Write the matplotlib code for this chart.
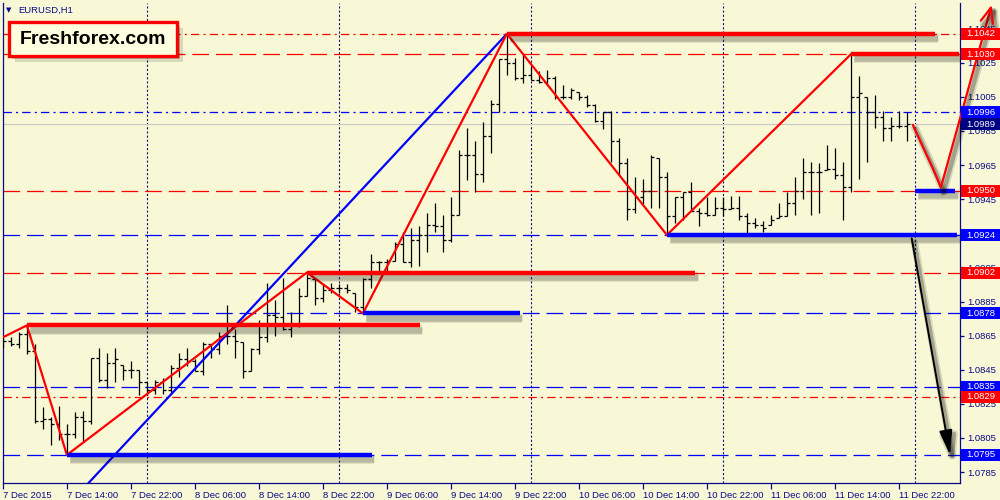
import matplotlib
matplotlib.use('Agg')
import numpy as np
import matplotlib.pyplot as plt
import matplotlib.patheffects as pe
from matplotlib.patches import Rectangle, FancyBboxPatch

# EURUSD H1, bar 0 = 7 Dec 2015 06:00
opens = [1.0863, 1.0862, 1.0860, 1.0866, 1.0856, 1.0815, 1.0816, 1.0813, 1.0807, 1.0807,
         1.0817, 1.0815, 1.0852, 1.0839, 1.0849, 1.0848, 1.0845, 1.0845, 1.0838, 1.0833,
         1.0838, 1.0833, 1.0846, 1.0851, 1.0850, 1.0844, 1.0860, 1.0857, 1.0865, 1.0865,
         1.0861, 1.0844, 1.0857, 1.0864, 1.0877, 1.0876, 1.0869, 1.0871, 1.0888, 1.0898,
         1.0887, 1.0892, 1.0893, 1.0893, 1.0890, 1.0882, 1.0898, 1.0908, 1.0908, 1.0909,
         1.0919, 1.0908, 1.0921, 1.0924, 1.0930, 1.0929, 1.0921, 1.0936, 1.0971, 1.0971,
         1.0960, 1.0982, 1.1001, 1.1027, 1.1025, 1.1016, 1.1018, 1.1015, 1.1014, 1.1016,
         1.1005, 1.1005, 1.1008, 1.1005, 1.1000, 1.0991, 1.0996, 1.0979, 1.0966, 1.0939,
         1.0946, 1.0950, 1.0969, 1.0958, 1.0935, 1.0946, 1.0949, 1.0938, 1.0937, 1.0936,
         1.0940, 1.0939, 1.0940, 1.0935, 1.0931, 1.0930, 1.0930, 1.0934, 1.0935, 1.0943,
         1.0950, 1.0961, 1.0961, 1.0962, 1.0963, 1.0959, 1.0952, 1.1005, 1.1005, 1.0996,
         1.0993, 1.0987, 1.0988, 1.0988]
highs = [1.0864, 1.0864, 1.0867, 1.0871, 1.0860, 1.0823, 1.0817, 1.0824, 1.0813, 1.0820,
         1.0821, 1.0852, 1.0858, 1.0855, 1.0858, 1.0848, 1.0850, 1.0845, 1.0838, 1.0839,
         1.0840, 1.0848, 1.0855, 1.0858, 1.0851, 1.0861, 1.0860, 1.0867, 1.0883, 1.0869,
         1.0861, 1.0858, 1.0874, 1.0896, 1.0886, 1.0899, 1.0879, 1.0893, 1.0902, 1.0898,
         1.0895, 1.0896, 1.0895, 1.0895, 1.0890, 1.0899, 1.0913, 1.0909, 1.0910, 1.0920,
         1.0926, 1.0928, 1.0929, 1.0937, 1.0943, 1.0936, 1.0946, 1.0974, 1.0987, 1.0979,
         1.0990, 1.1003, 1.1027, 1.1042, 1.1028, 1.1030, 1.1023, 1.1020, 1.1021, 1.1017,
         1.1012, 1.1010, 1.1008, 1.1006, 1.1001, 1.0996, 1.0997, 1.0981, 1.0969, 1.0958,
         1.0957, 1.0971, 1.0969, 1.0961, 1.0946, 1.0949, 1.0955, 1.0940, 1.0946, 1.0946,
         1.0946, 1.0947, 1.0947, 1.0937, 1.0934, 1.0932, 1.0936, 1.0943, 1.0949, 1.0958,
         1.0969, 1.0967, 1.0966, 1.0977, 1.0975, 1.0967, 1.1030, 1.1017, 1.1005, 1.1006,
         1.0997, 1.0993, 1.0997, 1.0996]
lows = [1.0858, 1.0859, 1.0858, 1.0854, 1.0814, 1.0810, 1.0801, 1.0804, 1.0795, 1.0805,
        1.0803, 1.0813, 1.0838, 1.0834, 1.0838, 1.0839, 1.0840, 1.0830, 1.0830, 1.0831,
        1.0831, 1.0831, 1.0841, 1.0847, 1.0844, 1.0842, 1.0852, 1.0854, 1.0860, 1.0852,
        1.0840, 1.0844, 1.0854, 1.0861, 1.0865, 1.0868, 1.0864, 1.0870, 1.0888, 1.0883,
        1.0885, 1.0890, 1.0890, 1.0890, 1.0879, 1.0878, 1.0893, 1.0902, 1.0902, 1.0909,
        1.0908, 1.0905, 1.0906, 1.0914, 1.0926, 1.0914, 1.0920, 1.0936, 1.0956, 1.0949,
        1.0955, 1.0972, 1.0996, 1.1018, 1.1015, 1.1013, 1.1015, 1.1013, 1.1012, 1.1004,
        1.1004, 1.1004, 1.1003, 1.0999, 1.0990, 1.0986, 1.0967, 1.0959, 1.0933, 1.0937,
        1.0942, 1.0940, 1.0940, 1.0924, 1.0931, 1.0933, 1.0938, 1.0929, 1.0935, 1.0936,
        1.0935, 1.0939, 1.0933, 1.0925, 1.0928, 1.0926, 1.0930, 1.0934, 1.0935, 1.0936,
        1.0945, 1.0936, 1.0937, 1.0962, 1.0957, 1.0933, 1.0949, 1.0957, 1.0967, 1.0987,
        1.0979, 1.0979, 1.0987, 1.0979]
closes = [1.0862, 1.0860, 1.0866, 1.0856, 1.0815, 1.0816, 1.0813, 1.0807, 1.0807, 1.0817,
          1.0815, 1.0852, 1.0839, 1.0849, 1.0851, 1.0845, 1.0845, 1.0838, 1.0833, 1.0838,
          1.0833, 1.0846, 1.0851, 1.0850, 1.0844, 1.0860, 1.0857, 1.0865, 1.0865, 1.0862,
          1.0844, 1.0857, 1.0864, 1.0877, 1.0876, 1.0869, 1.0871, 1.0888, 1.0899, 1.0887,
          1.0892, 1.0893, 1.0893, 1.0892, 1.0882, 1.0898, 1.0908, 1.0908, 1.0909, 1.0919,
          1.0908, 1.0921, 1.0924, 1.0930, 1.0929, 1.0921, 1.0936, 1.0971, 1.0971, 1.0960,
          1.0982, 1.1001, 1.1027, 1.1025, 1.1016, 1.1018, 1.1015, 1.1014, 1.1016, 1.1005,
          1.1005, 1.1009, 1.1005, 1.1000, 1.0991, 1.0996, 1.0979, 1.0966, 1.0939, 1.0946,
          1.0950, 1.0970, 1.0958, 1.0935, 1.0946, 1.0949, 1.0938, 1.0937, 1.0936, 1.0940,
          1.0939, 1.0940, 1.0935, 1.0931, 1.0930, 1.0928, 1.0933, 1.0935, 1.0943, 1.0950,
          1.0961, 1.0961, 1.0961, 1.0963, 1.0959, 1.0952, 1.1005, 1.1007, 1.0996, 1.0993,
          1.0987, 1.0988, 1.0988, 1.0989]

time_labels = ['7 Dec 2015', '7 Dec 14:00', '7 Dec 22:00', '8 Dec 06:00', '8 Dec 14:00',
               '8 Dec 22:00', '9 Dec 06:00', '9 Dec 14:00', '9 Dec 22:00', '10 Dec 06:00',
               '10 Dec 14:00', '10 Dec 22:00', '11 Dec 06:00', '11 Dec 14:00', '11 Dec 22:00']
label_bars = [0, 8, 16, 24, 32, 40, 48, 56, 64, 72, 80, 88, 96, 104, 112]
day_breaks = [18, 42, 66, 90, 114]
price_ticks = [1.0785, 1.0805, 1.0825, 1.0845, 1.0865, 1.0885, 1.0905, 1.0925,
               1.0945, 1.0965, 1.0985, 1.1005, 1.1025, 1.1045]

zigzag_bars = [0, 3, 8, 38, 45, 63, 83, 106]
zigzag_prices = [1.0864, 1.0871, 1.0795, 1.0902, 1.0878, 1.1042, 1.0924, 1.1030]
trend_bars = [10, 63]
trend_prices = [1.0775, 1.1042]

level_prices = [1.1042, 1.1030, 1.0996, 1.0950, 1.0924, 1.0902, 1.0878, 1.0835, 1.0829, 1.0795]
level_colors = ['red', 'red', 'blue', 'red', 'blue', 'red', 'blue', 'blue', 'red', 'blue']
level_dashdot = [True, False, True, False, False, False, False, False, True, False]
bid_price = 1.0989

seg_prices = [1.1042, 1.1030, 1.0950, 1.0924, 1.0902, 1.0878, 1.0871, 1.0795]
seg_start = [63, 106, 114, 83, 38, 45, 3, 8]
seg_end = [116.5, 119.5, 119.0, 119.3, 86.5, 64.6, 52.1, 46.1]
seg_colors = ['red', 'red', 'blue', 'blue', 'red', 'blue', 'red', 'blue']

up_bars = [113.75, 116.25, 117.25]
up_prices = [1.09885, 1.0963, 1.0952]
up_tip = (123.6, 1.1059)
down_start = (113.6, 1.0922)
down_tip = (118.4, 1.0795)

BG = '#F8F8D6'
NAVY = '#0A0A88'
RED = '#FF0000'
BLUE = '#0000FF'
SMALL = 'Liberation Sans'

plt.rcParams['lines.scale_dashes'] = False
dashed = (0, (12, 5))
dashdot = (0, (6, 3, 1.5, 3))
dotted = (0, (1.5, 1.5))

fig = plt.figure(figsize=(10, 5), dpi=100, facecolor=BG)
ax = fig.add_axes([0.0025, 0.034, 0.9575, 0.96], facecolor=BG)
ax.set_xlim(-0.05, -0.05 + 957.5 / 8)
ax.set_ylim(1.0785 - 11 / 17050, 1.0785 + 469 / 17050)

def shadow(lw, a=0.18):
    return [pe.SimpleLineShadow(offset=(2, -3), shadow_color='k', alpha=a * 0.5, linewidth=lw + 4),
            pe.SimpleLineShadow(offset=(2, -3), shadow_color='k', alpha=a, linewidth=lw + 1.5),
            pe.Normal()]

# day separators
for b in day_breaks:
    ax.axvline(b, color=NAVY, lw=0.8, ls=dotted, zorder=1)

# horizontal levels
for p, c, dd in zip(level_prices, level_colors, level_dashdot):
    ax.axhline(p, color=c, lw=0.9, ls=dashdot if dd else dashed, zorder=1)
ax.axhline(bid_price, color='#C8C8C8', lw=0.8, zorder=1)

# OHLC bars
idx = np.arange(len(closes))
ax.vlines(idx, lows, highs, color='k', lw=0.9, zorder=3)
ax.hlines(opens, idx - 0.4, idx, color='k', lw=0.9, zorder=3)
ax.hlines(closes, idx, idx + 0.4, color='k', lw=0.9, zorder=3)

# trend line and zigzag
ax.plot(trend_bars, trend_prices, color=BLUE, lw=1.6, zorder=4, solid_capstyle='butt')
ax.plot(zigzag_bars, zigzag_prices, color=RED, lw=1.6, zorder=4)

# thick levels
for p, s, e, c in zip(seg_prices, seg_start, seg_end, seg_colors):
    ax.plot([s, e], [p, p], color=RED if c == 'red' else BLUE, lw=3.2,
            solid_capstyle='butt', zorder=5, path_effects=shadow(3.2))

# forecast arrows
ax.plot(up_bars, up_prices, color=RED, lw=1.6, zorder=6, clip_on=False,
        path_effects=shadow(1.6, 0.25))
ax.annotate('', xy=up_tip, xytext=(up_bars[-1], up_prices[-1]), annotation_clip=False,
            arrowprops=dict(arrowstyle='->,head_length=1.1,head_width=0.45', color=RED,
                            lw=1.6, mutation_scale=10, shrinkA=0, shrinkB=0,
                            path_effects=shadow(1.6, 0.25)), zorder=6)
ax.annotate('', xy=down_tip, xytext=down_start, annotation_clip=False,
            arrowprops=dict(arrowstyle='-|>,head_length=1.5,head_width=0.4', color='k',
                            lw=1.4, mutation_scale=10, shrinkA=0, shrinkB=0,
                            path_effects=shadow(1.4, 0.25)), zorder=6)

# axes style
for side in ['left', 'right', 'bottom']:
    ax.spines[side].set_color(NAVY)
    ax.spines[side].set_linewidth(0.9)
ax.spines['top'].set_visible(False)
ax.yaxis.tick_right()
ax.set_yticks(price_ticks)
ax.set_yticklabels(['%.4f' % p for p in price_ticks], family=SMALL)
ax.tick_params(axis='y', direction='out', length=3, pad=2.5, labelsize=6.8,
               colors=NAVY, width=0.9)
ax.set_xticks(label_bars)
ax.set_xticklabels(time_labels, family=SMALL)
ax.tick_params(axis='x', direction='out', length=4, pad=2, labelsize=6.8,
               colors=NAVY, width=0.9)
for lab in ax.get_xticklabels():
    lab.set_ha('left')

# price labels on right scale
ytr = ax.get_yaxis_transform()
box_h = 12 / 17050
box_prices = level_prices + [bid_price]
box_colors = [RED if c == 'red' else BLUE for c in level_colors] + ['#000080']
for p, c in zip(box_prices, box_colors):
    ax.add_patch(Rectangle((1.0008, p - box_h / 2), 0.0415, box_h, transform=ytr,
                           facecolor=c, edgecolor='none', clip_on=False, zorder=7))
    ax.text(1.0068, p, '%.4f' % p, transform=ytr, color='white', fontsize=6.8,
            family=SMALL, va='center', ha='left', zorder=8, clip_on=False)

# header and logo
fig.text(0.006, 1 - 10 / 500, '\u25bc', fontsize=5, color=NAVY, va='center')
fig.text(0.018, 1 - 10 / 500, 'EURUSD,H1', fontsize=6.8, family=SMALL, color=NAVY, va='center')
logo = FancyBboxPatch((0.009, 1 - 56 / 500), 0.168, 34 / 500, boxstyle='square,pad=0',
                      transform=fig.transFigure, facecolor='#FFFFDF', edgecolor=RED,
                      lw=2.4, zorder=10,
                      path_effects=[pe.SimplePatchShadow(offset=(4, -4), shadow_rgbFace='k', alpha=0.12),
                                    pe.SimplePatchShadow(offset=(2.5, -2.5), shadow_rgbFace='k', alpha=0.2),
                                    pe.Normal()])
fig.add_artist(logo)
fig.text(0.093, 1 - 39 / 500, 'Freshforex.com', fontsize=14, fontweight='bold',
         family='Liberation Sans', color='k', ha='center', va='center', zorder=11)

fig.savefig('out.png', dpi=100, facecolor=BG)
